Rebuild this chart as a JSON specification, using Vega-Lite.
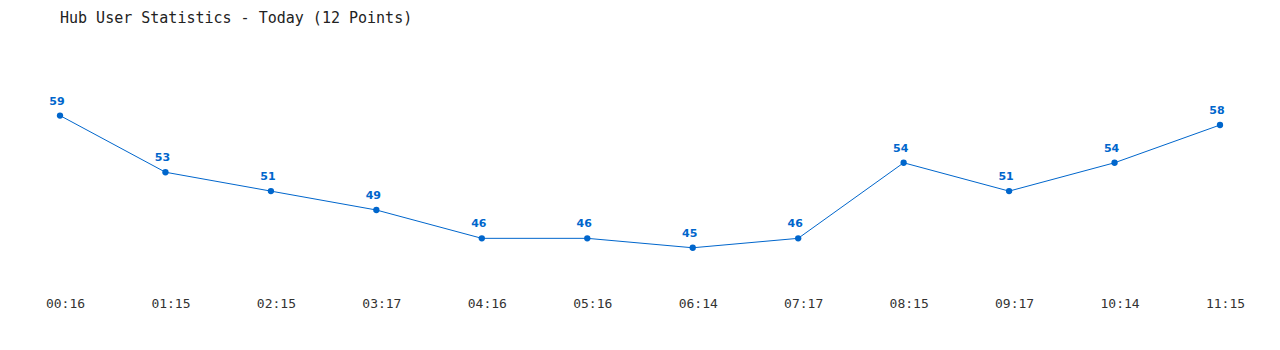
{
  "$schema": "https://vega.github.io/schema/vega-lite/v6.json",
  "autosize": "none",
  "width": 1160,
  "height": 255,
  "padding": {"left": 60, "top": 40, "right": 60, "bottom": 55},
  "background": "white",
  "title": {
    "text": "Hub User Statistics - Today (12 Points)",
    "anchor": "start",
    "frame": "group",
    "font": "DejaVu Sans Mono",
    "fontSize": 15,
    "fontWeight": "normal",
    "color": "#222222",
    "offset": 14
  },
  "config": {"view": {"stroke": null}},
  "data": {
    "values": [
      {"time": "00:16", "users": 59},
      {"time": "01:15", "users": 53},
      {"time": "02:15", "users": 51},
      {"time": "03:17", "users": 49},
      {"time": "04:16", "users": 46},
      {"time": "05:16", "users": 46},
      {"time": "06:14", "users": 45},
      {"time": "07:17", "users": 46},
      {"time": "08:15", "users": 54},
      {"time": "09:17", "users": 51},
      {"time": "10:14", "users": 54},
      {"time": "11:15", "users": 58}
    ]
  },
  "encoding": {
    "x": {
      "field": "time", "type": "ordinal", "sort": null,
      "scale": {"type": "point", "padding": 0},
      "axis": {"title": null, "domain": false, "ticks": false, "grid": false, "labelAngle": 0,
               "labelFont": "DejaVu Sans Mono", "labelFontSize": 13, "labelColor": "#333333",
               "labelPadding": 2, "labelOffset": 5}
    },
    "y": {
      "field": "users", "type": "quantitative",
      "scale": {"domain": [40, 67], "zero": false, "nice": false},
      "axis": null
    }
  },
  "layer": [
    {"mark": {"type": "line", "color": "#0066cc", "strokeWidth": 1}},
    {"mark": {"type": "point", "filled": true, "color": "#0066cc", "size": 40, "opacity": 1}},
    {"mark": {"type": "text", "color": "#0066cc", "font": "DejaVu Sans", "fontSize": 11, "fontWeight": "bold", "dy": -14, "dx": -3},
     "encoding": {"text": {"field": "users", "type": "quantitative"}}}
  ]
}
